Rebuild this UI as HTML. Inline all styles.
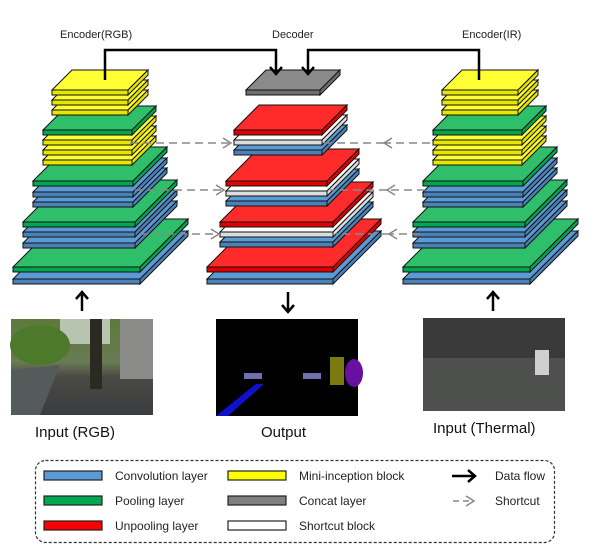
<!DOCTYPE html>
<html><head><meta charset="utf-8"><style>
html,body{margin:0;padding:0;background:#fff;}
svg{display:block;font-family:"Liberation Sans",Arial,sans-serif;}
</style></head><body>
<svg id="s" width="600" height="555" viewBox="0 0 600 555" xmlns="http://www.w3.org/2000/svg">
<defs>
<marker id="ab" markerWidth="14" markerHeight="14" refX="7" refY="7" orient="auto" markerUnits="userSpaceOnUse"><path d="M1,1 L8,7 L1,13" fill="none" stroke="#000" stroke-width="2.5"/></marker>
<marker id="ag" markerWidth="12" markerHeight="12" refX="9" refY="6" orient="auto" markerUnits="userSpaceOnUse"><path d="M1,1 L9,6 L1,11" fill="none" stroke="#888" stroke-width="1.5"/></marker>
<linearGradient id="sky" x1="0" y1="0" x2="0" y2="1"><stop offset="0" stop-color="#5c7a3a"/><stop offset="0.45" stop-color="#6a7a55"/><stop offset="0.6" stop-color="#4a4a44"/><stop offset="1" stop-color="#3a3c40"/></linearGradient>
</defs>
<g id="plates"></g>
<g stroke="#888" stroke-width="1.6" stroke-dasharray="8,5" fill="none">
<line x1="130" y1="143" x2="231" y2="143" marker-end="url(#ag)"/>
<line x1="135" y1="190" x2="224" y2="190" marker-end="url(#ag)"/>
<line x1="140" y1="234" x2="219" y2="234" marker-end="url(#ag)"/>
<line x1="430" y1="143" x2="384" y2="143" marker-end="url(#ag)"/>
<line x1="425" y1="190" x2="387" y2="190" marker-end="url(#ag)"/>
<line x1="420" y1="234" x2="389" y2="234" marker-end="url(#ag)"/>
<line x1="384" y1="143" x2="322" y2="143"/>
<line x1="387" y1="190" x2="330" y2="190"/>
<line x1="389" y1="234" x2="336" y2="234"/>
</g>
<g stroke="#000" stroke-width="2.5" fill="none">
<polyline points="105,80 105,50 276,50 276,73" marker-end="url(#ab)"/>
<polyline points="479,80 479,50 308,50 308,73" marker-end="url(#ab)"/>
<line x1="82" y1="311" x2="82" y2="293" marker-end="url(#ab)"/>
<line x1="288" y1="292" x2="288" y2="311" marker-end="url(#ab)"/>
<line x1="493" y1="311" x2="493" y2="293" marker-end="url(#ab)"/>
</g>
<g font-size="11" fill="#222">
<text x="60" y="38">Encoder(RGB)</text>
<text x="272" y="38">Decoder</text>
<text x="462" y="38">Encoder(IR)</text>
</g>
<rect x="11" y="319" width="142" height="96" fill="url(#sky)"/>
<rect x="60" y="319" width="50" height="25" fill="#b8c4b0"/>
<ellipse cx="40" cy="345" rx="30" ry="20" fill="#4d7a2a"/>
<rect x="90" y="319" width="12" height="70" fill="#2a2a22"/>
<rect x="120" y="319" width="33" height="60" fill="#8a8a88"/>
<polygon points="11,370 60,365 40,415 11,415" fill="#555a5a"/>
<rect x="216" y="319" width="142" height="97" fill="#000"/>
<polygon points="216,416 228,416 264,384 256,384" fill="#1010d0"/>
<rect x="244" y="373" width="18" height="6" fill="#7070b0"/>
<rect x="303" y="373" width="18" height="6" fill="#7070b0"/>
<rect x="330" y="357" width="14" height="28" fill="#7a7a10"/>
<ellipse cx="354" cy="373" rx="9" ry="14" fill="#6a10a0"/>
<rect x="423" y="318" width="142" height="93" fill="#4e504e"/>
<rect x="423" y="318" width="142" height="40" fill="#3a3a3a"/>
<rect x="535" y="350" width="14" height="25" fill="#cfcfcf"/>
<g font-size="15" fill="#111">
<text x="35" y="437">Input (RGB)</text>
<text x="261" y="437">Output</text>
<text x="433" y="433">Input (Thermal)</text>
</g>
<rect x="35.5" y="460.5" width="519" height="82" rx="10" fill="none" stroke="#333" stroke-width="1.2" stroke-dasharray="3,2"/>
<g stroke="#222" stroke-width="1.2">
<rect x="44" y="471" width="58" height="9" fill="#5b9bd5"/>
<rect x="44" y="496" width="58" height="9" fill="#00a650"/>
<rect x="44" y="521" width="58" height="9" fill="#ff0000"/>
<rect x="228" y="471" width="58" height="9" fill="#ffff00"/>
<rect x="228" y="496" width="58" height="9" fill="#808080"/>
<rect x="228" y="521" width="58" height="9" fill="#fff"/>
</g>
<g font-size="12" fill="#222">
<text x="115" y="480">Convolution layer</text>
<text x="115" y="505">Pooling layer</text>
<text x="115" y="530">Unpooling layer</text>
<text x="299" y="480">Mini-inception block</text>
<text x="299" y="505">Concat layer</text>
<text x="299" y="530">Shortcut block</text>
<text x="495" y="480">Data flow</text>
<text x="495" y="505">Shortcut</text>
</g>
<line x1="452" y1="476" x2="474" y2="476" stroke="#000" stroke-width="2.5" marker-end="url(#ab)"/>
<line x1="453" y1="501" x2="474" y2="501" stroke="#888" stroke-width="1.5" stroke-dasharray="6,4" marker-end="url(#ag)"/>
</svg>
<script>
var C={b:["#5b9bd5","#4a82b8"],g:["#2fbf6a","#00a650"],y:["#ffff33","#e6e600"],r:["#ff2a2a","#e00000"],w:["#ffffff","#dddddd"],k:["#8a8a8a","#6e6e6e"]};
var L=[
[52,90,76,20,'y'],[52,100,76,20,'y'],[52,110,76,20,'y'],
[43,130,89,24,'g'],[43,140,89,24,'y'],[43,150,89,24,'y'],[43,160,89,24,'y'],
[33,181,100,34,'g'],[33,192,100,34,'b'],[33,202,100,34,'b'],
[23,222,112,42,'g'],[23,232,112,42,'b'],[23,243,112,42,'b'],
[13,267,127,48,'g'],[13,279,127,48,'b']];
var M=[[246,90,74,20,'k'],
[234,130,88,25,'r'],[234,140,88,25,'w'],[234,150,88,25,'b'],
[226,181,101,32,'r'],[226,191,101,32,'w'],[226,201,101,32,'b'],
[220,222,113,40,'r'],[220,232,113,40,'w'],[220,242,113,40,'b'],
[207,267,126,48,'r'],[207,279,126,48,'b']];
var all=[];
L.forEach(function(p){all.push(p);all.push([p[0]+390,p[1],p[2],p[3],p[4]]);});
M.forEach(function(p){all.push(p);});
all.sort(function(a,b){return a[1]-b[1];});
var g=document.getElementById('plates'),h=5,s='';
for(var i=all.length-1;i>=0;i--){var p=all[i],x=p[0],y=p[1],w=p[2],d=p[3],c=C[p[4]];
s+='<polygon points="'+x+','+y+' '+(x+w)+','+y+' '+(x+w+d)+','+(y-d)+' '+(x+d)+','+(y-d)+'" fill="'+c[0]+'" stroke="#111" stroke-width="1"/>';
s+='<polygon points="'+(x+w)+','+y+' '+(x+w+d)+','+(y-d)+' '+(x+w+d)+','+(y-d+h)+' '+(x+w)+','+(y+h)+'" fill="'+c[1]+'" stroke="#111" stroke-width="1"/>';
s+='<rect x="'+x+'" y="'+y+'" width="'+w+'" height="'+h+'" fill="'+c[1]+'" stroke="#111" stroke-width="1"/>';}
g.innerHTML=s;
</script>
</body></html>
